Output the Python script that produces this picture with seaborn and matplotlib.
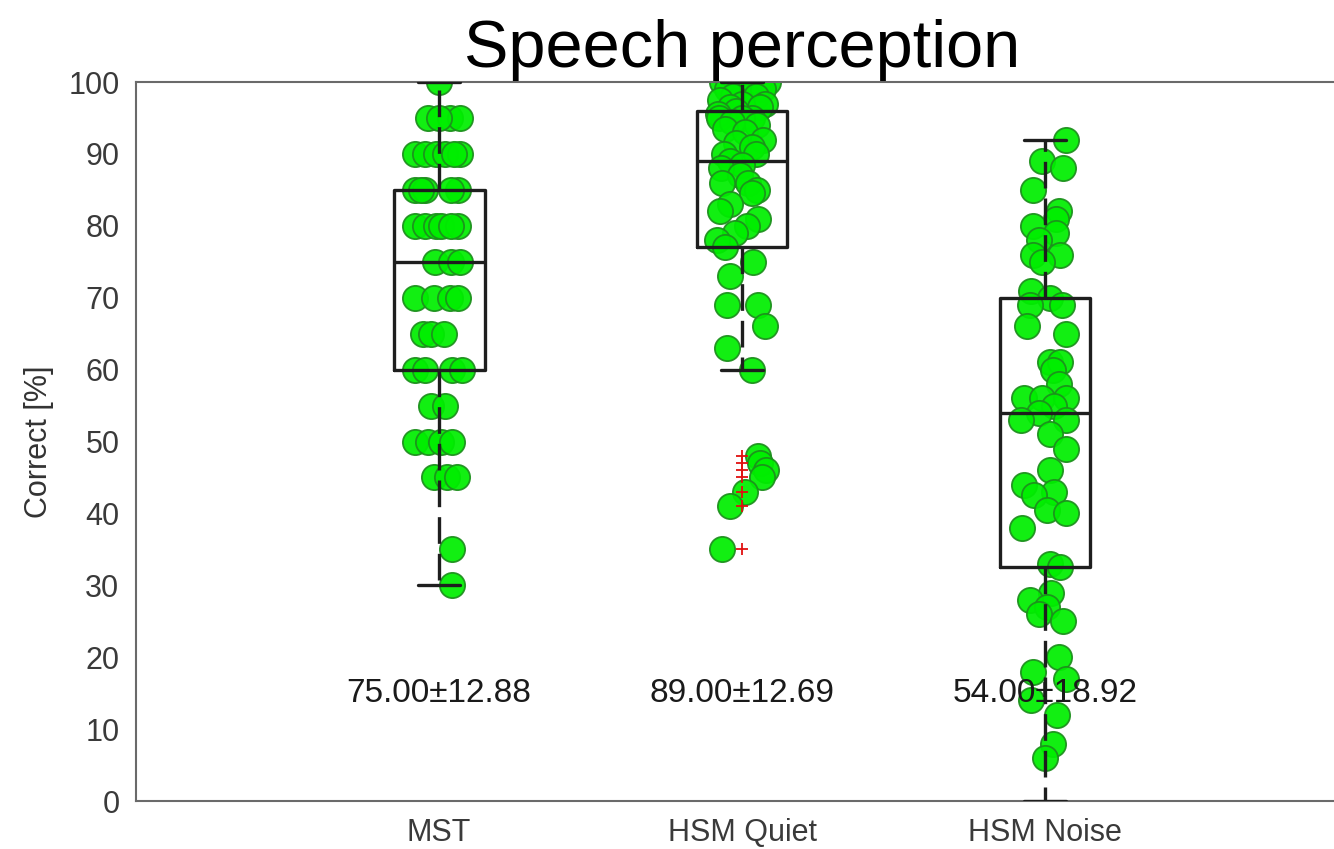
import numpy as np
import pandas as pd
import matplotlib
matplotlib.use("Agg")
import matplotlib.pyplot as plt
import seaborn as sns

# ---------------- data ----------------
categories = ["MST", "HSM Quiet", "HSM Noise"]

mst_scores = [100,
              95, 95, 95, 95,
              90, 90, 90, 90, 90, 90,
              85, 85, 85, 85, 85,
              80, 80, 80, 80, 80, 80,
              75, 75, 75,
              70, 70, 70, 70,
              65, 65, 65,
              60, 60, 60, 60,
              55, 55,
              50, 50, 50, 50,
              45, 45, 45,
              35, 30]
mst_jitter = [0.0,
              -0.037, 0.037, 0.07, 0.0,
              -0.08, -0.045, -0.01, 0.02, 0.07, 0.05,
              -0.08, -0.048, 0.064, 0.04, -0.06,
              -0.08, -0.048, -0.01, 0.005, 0.064, 0.04,
              -0.015, 0.04, 0.07,
              -0.08, -0.016, 0.037, 0.064,
              -0.053, -0.027, 0.016,
              -0.08, -0.048, 0.043, 0.075,
              -0.027, 0.021,
              -0.08, -0.037, 0.005, 0.043,
              -0.016, 0.027, 0.059,
              0.043, 0.043]

quiet_scores = [100, 100, 100, 100, 100, 99, 99, 98, 98, 97.5, 97, 97, 96.5, 96.5, 96,
                95.5, 95, 95, 95, 94.5, 94, 93.5, 93, 92, 91.5, 91, 90, 90,
                89,
                88.5, 88, 87, 86, 86, 85, 84.5, 83, 82, 81, 80, 79, 78,
                77,
                75, 73, 69, 69, 66, 63, 60, 48, 47, 46, 45, 43, 41, 35]
quiet_jitter = [-0.067, 0.053, 0.086, -0.02, 0.03, 0.07, -0.05, -0.03, 0.045, -0.072, 0.076, 0.0, -0.04, 0.06, -0.02,
                -0.08, -0.075, 0.033, 0.0, -0.033, 0.05, -0.055, 0.01, 0.07, -0.02, 0.033, -0.06, 0.045,
                -0.04,
                0.0, -0.07, -0.006, 0.02, -0.065, 0.05, 0.033, -0.04, -0.072, 0.053, 0.016, -0.023, -0.082,
                -0.056,
                0.035, -0.04, -0.05, 0.053, 0.076, -0.05, 0.033, 0.053, 0.06, 0.08, 0.065, 0.01, -0.04, -0.066]

noise_scores = [92, 89, 88, 85, 82, 81, 80, 79, 78, 76, 76, 75, 71, 70, 69, 69, 66, 65,
                61, 61, 60, 58, 56, 56, 56, 55, 54, 53, 53, 51, 49, 46, 44, 43, 42.5,
                40.5, 40, 38, 33, 32.5, 29, 28, 27, 26, 25, 20, 18, 17, 14, 12, 8, 6, 0]
noise_jitter = [0.07, -0.01, 0.06, -0.04, 0.045, 0.035, -0.04, 0.035, -0.02, -0.04, 0.05, -0.01,
                -0.045, 0.015, 0.055, -0.05, -0.06, 0.07,
                0.015, 0.05, 0.025, 0.045, -0.07, -0.01, 0.07, 0.03, -0.02, -0.08, 0.07, 0.015,
                0.07, 0.015, -0.07, 0.03, -0.035,
                0.005, 0.07, -0.075, 0.015, 0.05, 0.02, -0.05, 0.005, -0.02, 0.06, 0.045, -0.04,
                0.07, -0.045, 0.04, 0.025, 0.0, 0.0]

summary_labels = ["75.00\u00b112.88", "89.00\u00b112.69", "54.00\u00b118.92"]
y_ticks = [0, 10, 20, 30, 40, 50, 60, 70, 80, 90, 100]
title_text = "Speech perception"
y_label = "Correct [%]"

# ---------------- build table ----------------
rows = []
for i, (sc, jt) in enumerate([(mst_scores, mst_jitter),
                              (quiet_scores, quiet_jitter),
                              (noise_scores, noise_jitter)]):
    for s, j in zip(sc, jt):
        rows.append({"group": categories[i], "score": s, "pos": i + j})
df = pd.DataFrame(rows)
# value 0 of the noise group only extends the whisker (no marker shown in the reference)
df_dots = df[df["score"] > 0]

# ---------------- style ----------------
sns.set_style("white")
plt.rcParams["font.family"] = ["Liberation Sans", "DejaVu Sans"]

fig = plt.figure(figsize=(13.34, 8.49), dpi=100)
ax = fig.add_axes([0.102, 0.0565, 0.9085, 0.8469])

box_color = "#1e1e1e"
sns.boxplot(data=df, x="group", y="score", order=categories, width=0.3,
            fill=False, color=box_color, linewidth=2.4, whis=1.5,
            flierprops=dict(marker="+", markeredgecolor="#e01010",
                            markersize=9, markeredgewidth=1.3),
            ax=ax)

cont = ax.containers[0]
for ln in list(cont.boxes) + list(cont.medians) + list(cont.caps) + list(cont.whiskers):
    ln.set_zorder(3)
    ln.set_color(box_color)
for ln in cont.whiskers:
    ln.set_linestyle((0, (8, 3)))
for ln in cont.caps:
    xd = np.asarray(ln.get_xdata(), dtype=float)
    c = xd.mean()
    ln.set_xdata([c - 0.07, c + 0.07])
for ln in cont.fliers:
    ln.set_zorder(4)
    ln.set_markeredgecolor("#e01010")

sns.scatterplot(data=df_dots, x="pos", y="score", s=330, color="#00ee00",
                edgecolor="#1d8f1d", linewidth=1.3, alpha=0.93, zorder=2,
                legend=False, ax=ax)

for i, lab in enumerate(summary_labels):
    ax.text(i, 15, lab, ha="center", va="center", fontsize=24,
            color="#1a1a1a", zorder=5)

ax.set_xlim(-1, 3)
ax.set_ylim(0, 100)
ax.set_xticks(range(len(categories)))
ax.set_xticklabels(categories)
ax.set_yticks(y_ticks)
ax.set_xlabel("")
ax.set_ylabel(y_label, fontsize=22, color="#333333", labelpad=10)
ax.set_title(title_text, fontsize=48, pad=11, color="black")

ax.tick_params(axis="both", direction="in", length=7, width=1.2,
               color="#666666", labelcolor="#3a3a3a", labelsize=22)
ax.tick_params(axis="y", pad=12)
ax.tick_params(axis="x", pad=12)
for sp in ["left", "bottom", "top", "right"]:
    ax.spines[sp].set_visible(True)
    ax.spines[sp].set_color("#6a6a6a")
    ax.spines[sp].set_linewidth(1.5)

fig.savefig("out.png", dpi=100)
